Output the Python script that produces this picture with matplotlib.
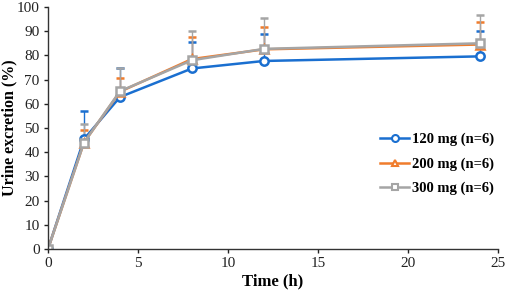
import matplotlib
matplotlib.use("Agg")
import matplotlib.pyplot as plt
from matplotlib.lines import Line2D
import numpy as np

time_h = [0, 2, 4, 8, 12, 24]
mean_120 = [0, 45.4, 62.8, 74.6, 77.7, 79.6]
sd_120 = [0, 11.7, 12.0, 10.8, 11.1, 10.6]
mean_200 = [0, 44.0, 65.0, 78.5, 82.5, 84.5]
sd_200 = [0, 5.2, 5.5, 9.2, 9.4, 9.5]
mean_300 = [0, 44.0, 65.2, 78.0, 82.7, 85.0]
sd_300 = [0, 7.6, 9.4, 12.0, 12.6, 11.8]
labels = ["120 mg (n=6)", "200 mg (n=6)", "300 mg (n=6)"]

plt.rcParams['font.family'] = ['Liberation Serif', 'DejaVu Serif']

fig = plt.figure(figsize=(5.05, 2.9), dpi=100)
ax = fig.add_axes([48/505, 41/290, 450/505, 242/290])

series = [
    (mean_120, sd_120, '#1a6fd0', 'o'),
    (mean_200, sd_200, '#f07c2c', '^'),
    (mean_300, sd_300, '#a5a5a5', 's'),
]
handles = []
for (m, s, c, mk), lab in zip(series, labels):
    ax.errorbar(time_h, m, yerr=[np.zeros(len(s)), s], color=c, ecolor=c,
                elinewidth=1.0, capsize=3, capthick=1.0, lw=1.8,
                marker=mk, markersize=6, markerfacecolor='white',
                markeredgecolor=c, markeredgewidth=1.8)
    handles.append(Line2D([], [], color=c, lw=1.8, marker=mk, markersize=5,
                          markerfacecolor='white', markeredgecolor=c,
                          markeredgewidth=1.5, label=lab))

ax.set_xlim(0, 25)
ax.set_ylim(0, 100)
ax.set_xticks([0, 5, 10, 15, 20, 25])
ax.set_yticks(range(0, 101, 10))
ax.spines['top'].set_visible(False)
ax.spines['right'].set_visible(False)
for sp in ['left', 'bottom']:
    ax.spines[sp].set_linewidth(1.0)
    ax.spines[sp].set_color('#333333')
ax.tick_params(direction='out', length=3, width=1.0, labelsize=11, colors='#222222', pad=3)
ax.set_xlabel('Time (h)', fontsize=12, fontweight='bold', labelpad=2)
fig.text(9/505, 1 - 128/290, 'Urine excretion (%)', rotation=90, fontsize=11.5,
         fontweight='bold', ha='center', va='center')

leg = fig.legend(handles=handles, loc='upper left', bbox_to_anchor=(380/505, 1 - 133/290),
                 bbox_transform=fig.transFigure, frameon=False,
                 prop={'weight': 'bold', 'size': 10.5}, borderpad=0, borderaxespad=0,
                 handlelength=2.0, handletextpad=0.2, labelspacing=0.75)

fig.savefig('out.png', dpi=100)
